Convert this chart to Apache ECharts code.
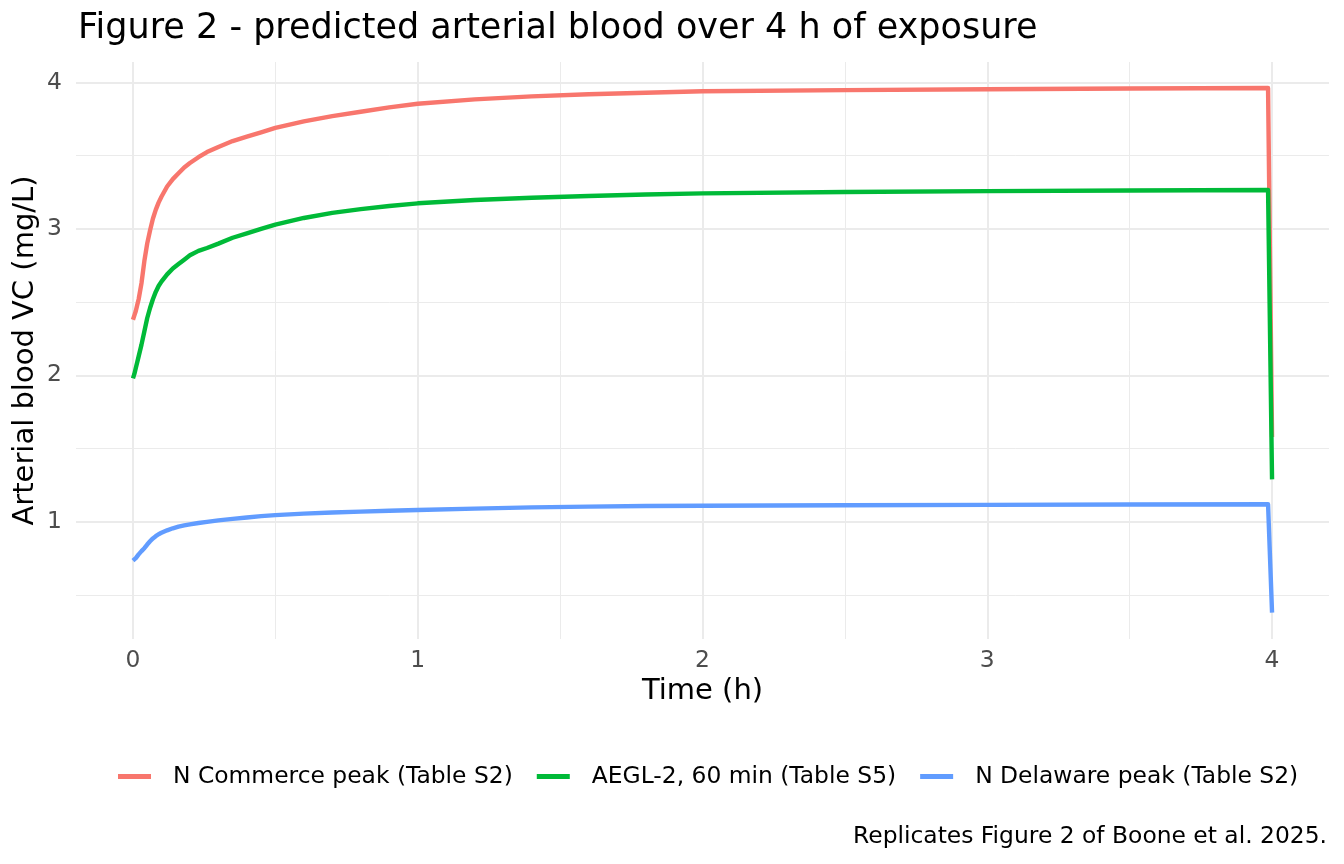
<!DOCTYPE html>
<html>
<head>
<meta charset="utf-8">
<script src="https://cdn.jsdelivr.net/npm/echarts@6/dist/echarts.min.js"></script>
<style>
  html, body { margin: 0; padding: 0; background: #fff; }
  #main { width: 1344px; height: 864px; }
</style>
</head>
<body>
<div id="main"></div>
<script>
// values
var timeH = [0, 0.005, 0.01, 0.015, 0.02, 0.03, 0.04, 0.05, 0.06, 0.07, 0.08, 0.09, 0.1, 0.12, 0.14, 0.16, 0.18, 0.2, 0.23, 0.26, 0.3, 0.35, 0.4, 0.45, 0.5, 0.6, 0.7, 0.8, 0.9, 1.0, 1.2, 1.4, 1.6, 1.8, 2.0, 2.5, 3.0, 3.5, 3.986, 4.0];
var commerce = [2.38, 2.41, 2.44, 2.48, 2.52, 2.63, 2.78, 2.9, 2.99, 3.07, 3.13, 3.18, 3.22, 3.29, 3.34, 3.38, 3.42, 3.45, 3.49, 3.525, 3.56, 3.6, 3.63, 3.66, 3.69, 3.735, 3.77, 3.8, 3.83, 3.855, 3.885, 3.905, 3.92, 3.93, 3.94, 3.948, 3.954, 3.959, 3.962, 1.58];
var aegl = [1.98, 2.01, 2.05, 2.09, 2.13, 2.21, 2.3, 2.39, 2.46, 2.52, 2.57, 2.61, 2.64, 2.69, 2.73, 2.76, 2.79, 2.82, 2.85, 2.87, 2.9, 2.94, 2.97, 3.0, 3.03, 3.075, 3.11, 3.135, 3.157, 3.175, 3.198, 3.213, 3.225, 3.235, 3.243, 3.252, 3.258, 3.263, 3.266, 1.29];
var delaware = [0.735, 0.742, 0.752, 0.765, 0.778, 0.8, 0.82, 0.845, 0.867, 0.887, 0.902, 0.915, 0.925, 0.942, 0.956, 0.967, 0.976, 0.983, 0.992, 1.0, 1.01, 1.02, 1.03, 1.039, 1.046, 1.056, 1.064, 1.07, 1.076, 1.081, 1.09, 1.099, 1.104, 1.108, 1.11, 1.113, 1.116, 1.118, 1.12, 0.38];
var seriesNames = ['N Commerce peak (Table S2)', 'AEGL-2, 60 min (Table S5)', 'N Delaware peak (Table S2)'];
var seriesColors = ['#F8766D', '#00BA38', '#619CFF'];

var W = 1344, H = 864;
// panel box (ggplot panel incl. expansion)
var pL = 76, pR = 1329, pT = 62, pB = 639;
var xMin = -0.2, xMax = 4.2, yMin = 0.2, yMax = 4.14;
function px(v) { return pL + (v - xMin) / (xMax - xMin) * (pR - pL); }
function py(v) { return pT + (yMax - v) / (yMax - yMin) * (pB - pT); }

var FONT = 'DejaVu Sans';
var gridColor = '#ebebeb';
var smallSize = 23.4;

function pairs(ys) {
  return timeH.map(function (t, i) { return [t, ys[i]]; });
}

var dom = document.getElementById('main');
var myChart = echarts.init(dom, null, { renderer: 'canvas' });

var option = {
  animation: false,
  backgroundColor: '#ffffff',
  textStyle: { fontFamily: FONT },
  title: [
    {
      text: 'Figure 2 - predicted arterial blood over 4 h of exposure',
      left: 73, top: 6,
      textStyle: { fontFamily: FONT, fontSize: 35, fontWeight: 'normal', color: '#000' }
    },
    {
      text: 'Replicates Figure 2 of Boone et al. 2025.',
      right: 12, top: 820,
      textStyle: { fontFamily: FONT, fontSize: smallSize, fontWeight: 'normal', color: '#000' }
    }
  ],
  legend: {
    data: seriesNames,
    top: 760,
    left: 113,
    icon: 'rect',
    itemWidth: 33,
    itemHeight: 5,
    itemGap: 24,
    textStyle: { fontFamily: FONT, fontSize: smallSize, color: '#000', padding: [0, 0, 0, 17] }
  },
  grid: [
    // data panel
    { left: pL, right: W - pR, top: pT, bottom: H - pB },
    // horizontal grid lines + y labels (0..4)
    { left: pL, right: W - pR, top: py(4), bottom: H - py(0) },
    // vertical grid lines + x labels (0..4)
    { left: px(0), right: W - px(4), top: pT, bottom: H - pB }
  ],
  xAxis: [
    { gridIndex: 0, type: 'value', min: xMin, max: xMax, show: false },
    { gridIndex: 1, type: 'value', min: 0, max: 1, show: false },
    {
      gridIndex: 2, type: 'value', min: 0, max: 4, interval: 1,
      axisLine: { show: false }, axisTick: { show: false },
      minorTick: { show: false, splitNumber: 2 },
      splitLine: { show: true, lineStyle: { color: gridColor, width: 2 } },
      minorSplitLine: { show: true, lineStyle: { color: gridColor, width: 1 } },
      axisLabel: { fontFamily: FONT, fontSize: smallSize, color: '#4d4d4d', margin: 10 },
      name: 'Time (h)', nameLocation: 'middle', nameGap: 38,
      nameTextStyle: { fontFamily: FONT, fontSize: 29, color: '#000' }
    }
  ],
  yAxis: [
    {
      gridIndex: 0, type: 'value', min: yMin, max: yMax,
      axisLine: { show: false }, axisTick: { show: false },
      axisLabel: { show: false }, splitLine: { show: false },
      name: 'Arterial blood VC (mg/L)', nameLocation: 'middle', nameGap: 36,
      nameTextStyle: { fontFamily: FONT, fontSize: 29, color: '#000' }
    },
    {
      gridIndex: 1, type: 'value', min: 0, max: 4, interval: 1,
      axisLine: { show: false }, axisTick: { show: false },
      minorTick: { show: false, splitNumber: 2 },
      splitLine: { show: true, showMinLine: false, lineStyle: { color: gridColor, width: 2 } },
      minorSplitLine: { show: true, lineStyle: { color: gridColor, width: 1 } },
      axisLabel: { showMinLabel: false, fontFamily: FONT, fontSize: smallSize, color: '#4d4d4d', margin: 14 }
    },
    { gridIndex: 2, type: 'value', min: 0, max: 1, show: false }
  ],
  series: [commerce, aegl, delaware].map(function (ys, i) {
    return {
      name: seriesNames[i],
      type: 'line',
      xAxisIndex: 0,
      yAxisIndex: 0,
      data: pairs(ys),
      showSymbol: false,
      symbol: 'none',
      smooth: false,
      clip: false,
      color: seriesColors[i],
      lineStyle: { width: 4.4, color: seriesColors[i], join: 'round' }
    };
  })
};

myChart.setOption(option);
window.addEventListener('resize', myChart.resize);
</script>
</body>
</html>
